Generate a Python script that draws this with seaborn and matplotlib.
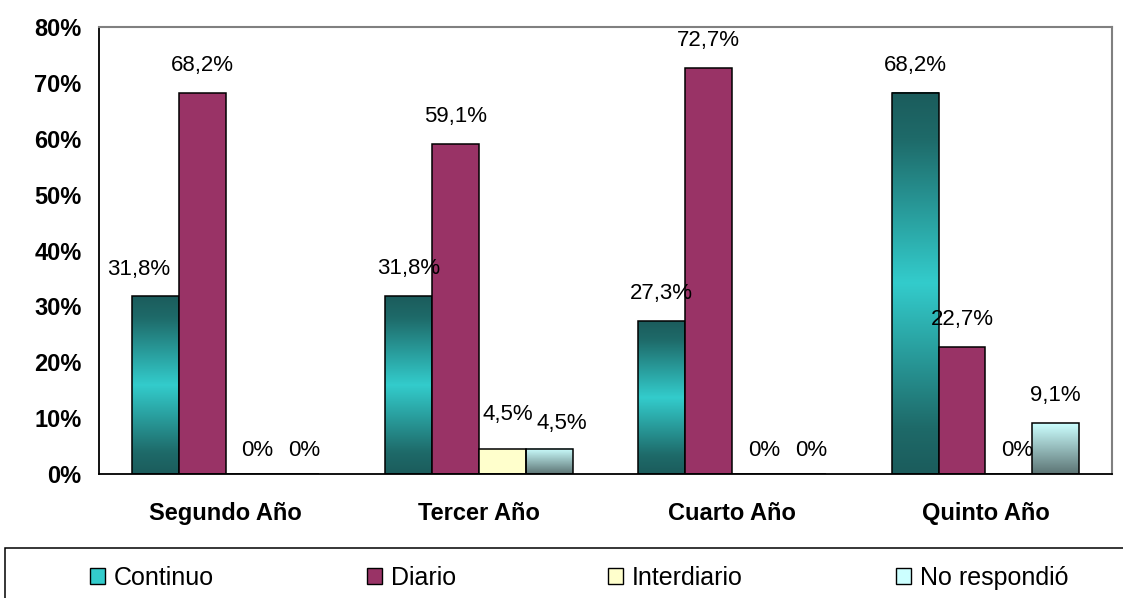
import numpy as np
import pandas as pd
import matplotlib
matplotlib.use("Agg")
import matplotlib.pyplot as plt
from matplotlib.colors import LinearSegmentedColormap
from matplotlib.patches import Patch, Rectangle
import seaborn as sns

# data
years = ['Segundo Año', 'Tercer Año', 'Cuarto Año', 'Quinto Año']
series = ['Continuo', 'Diario', 'Interdiario', 'No respondió']
continuo = [31.8, 31.8, 27.3, 68.2]
diario = [68.2, 59.1, 72.7, 22.7]
interdiario = [0, 4.5, 0, 0]
no_respondio = [0, 4.5, 0, 9.1]
y_ticks = [0, 10, 20, 30, 40, 50, 60, 70, 80]

colors = ['#33CCCC', '#993366', '#FFFFCC', '#CCFFFF']

sns.set_style('white')
plt.rcParams['font.family'] = ['Liberation Sans', 'DejaVu Sans']
plt.rcParams['text.color'] = 'black'
plt.rcParams['xtick.color'] = 'black'
plt.rcParams['ytick.color'] = 'black'

df = pd.DataFrame({
    'Año': years * 4,
    'serie': [s for s in series for _ in years],
    'valor': continuo + diario + interdiario + no_respondio,
})

fig = plt.figure(figsize=(11.23, 5.98), dpi=100)
ax = fig.add_axes([99 / 1123, 1 - 474 / 598, (1112 - 99) / 1123, (474 - 27) / 598])

sns.barplot(data=df, x='Año', y='valor', hue='serie', hue_order=series,
            palette=colors, width=0.74, gap=0, edgecolor='black',
            linewidth=1.1, saturation=1, legend=False, ax=ax)

# gradient fills like the original
grad_continuo = LinearSegmentedColormap.from_list(
    'cont', [(0, '#1B5C5C'), (0.12, '#1E6A69'), (0.5, '#33CCCC'), (0.88, '#1E6A69'), (1, '#1B5C5C')])
grad_nr = LinearSegmentedColormap.from_list('nr', [(0, '#CCFFFF'), (1, '#5C7474')])
ramp = np.linspace(0, 1, 256).reshape(-1, 1)
for idx, cmap in [(0, grad_continuo), (3, grad_nr)]:
    for bar in ax.containers[idx]:
        h = bar.get_height()
        if h <= 0:
            continue
        x0 = bar.get_x()
        x1 = x0 + bar.get_width()
        ax.imshow(ramp, cmap=cmap, extent=[x0, x1, 0, h], origin='upper',
                  aspect='auto', zorder=bar.get_zorder() - 0.1)
        bar.set_facecolor('none')

ax.set_xlim(-0.5, 3.5)
ax.set_ylim(0, 80)

# small manual nudges of some value labels (points), as in the original
nudges = {(0, 0): (-12, 19), (2, 1): (4, 25), (3, 1): (9, 18)}

for idx, cont in enumerate(ax.containers):
    for j, bar in enumerate(cont):
        v = bar.get_height()
        txt = '0%' if v == 0 else f'{v:.1f}%'.replace('.', ',')
        dx, dy = (6, 17) if v == 0 else (0, 20)
        dx, dy = nudges.get((idx, j), (dx, dy))
        ax.annotate(txt, (bar.get_x() + bar.get_width() / 2, v),
                    xytext=(dx, dy), textcoords='offset points',
                    ha='center', va='center', fontsize=16)

# axes styling
ax.set_yticks(y_ticks)
ax.set_yticklabels([f'{t}%' for t in y_ticks], fontsize=17, fontweight='bold')
ax.set_xticks(range(len(years)))
ax.set_xticklabels(years, fontsize=17, fontweight='bold')
ax.set_xticks(np.arange(-0.5, 4, 1), minor=True)
ax.tick_params(axis='x', which='major', length=0, pad=20)
ax.tick_params(axis='x', which='minor', length=6.5, width=1.1, direction='out', color='black')
ax.tick_params(axis='y', length=6.5, width=1.1, direction='out', color='black', pad=6)
ax.set_xlabel('')
ax.set_ylabel('')
for side in ['left', 'bottom']:
    ax.spines[side].set_color('black')
    ax.spines[side].set_linewidth(1.3)
for side in ['top', 'right']:
    ax.spines[side].set_color('#808080')
    ax.spines[side].set_linewidth(1.5)

# legend box
fig.patches.append(Rectangle((5 / 1123, -0.05), 1.1, 1 - 548 / 598 + 0.05,
                             transform=fig.transFigure, facecolor='white',
                             edgecolor='black', linewidth=1.1))
handles = [Patch(facecolor=c, edgecolor='black', linewidth=1) for c in colors]
fig.legend(handles, series, loc='center left', bbox_to_anchor=(80 / 1123, 1 - 578 / 598),
           ncol=4, frameon=False, fontsize=18, handlelength=0.6, handleheight=0.6,
           handletextpad=0.36, columnspacing=6.1, borderaxespad=0)

fig.savefig('out.png', dpi=100)
